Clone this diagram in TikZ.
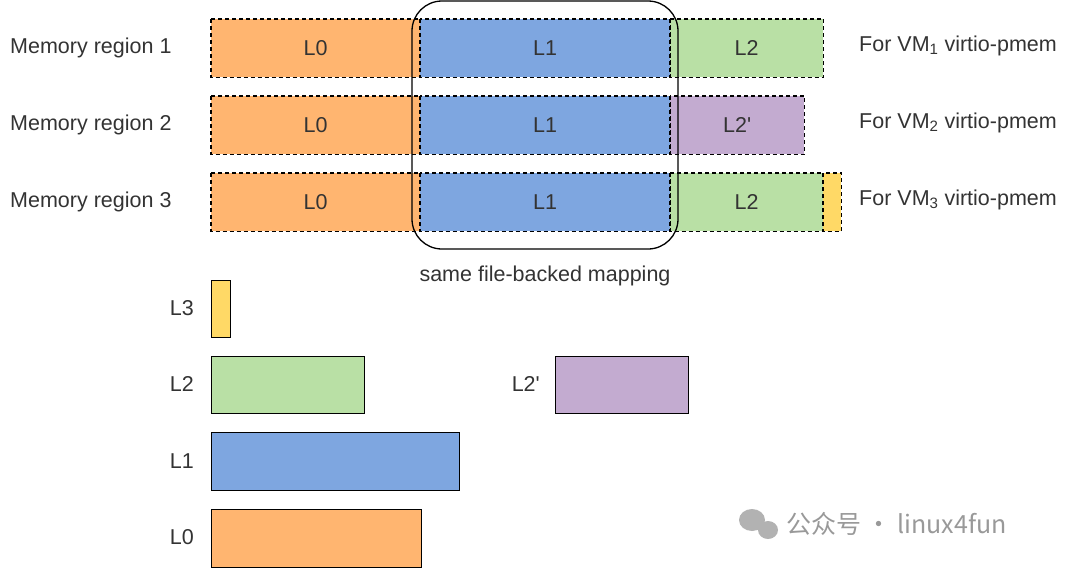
\documentclass[tikz,border=0pt]{standalone}
\usepackage{fontspec}
\setmainfont{Liberation Sans}
\newfontfamily\cjk{Noto Sans CJK SC}
\definecolor{cOr}{HTML}{FFB570}
\definecolor{cBl}{HTML}{7EA6E0}
\definecolor{cGr}{HTML}{B9E0A5}
\definecolor{cPu}{HTML}{C3ABD0}
\definecolor{cYe}{HTML}{FFD966}
\definecolor{tx}{HTML}{333333}
\begin{document}
\begin{tikzpicture}[x=1pt,y=-1pt,
  seg/.style={minimum height=58pt,anchor=north west},
  dsh/.style={draw=black,line width=1.5pt,dash pattern=on 4pt off 3pt},
  blk/.style={draw=black,line width=1pt},
  lab/.style={font=\fontsize{21.5}{24}\selectfont,text=tx},
  every node/.style={inner sep=0pt}]
\useasboundingbox (0,0) rectangle (1080,568);
% rows
\foreach \r/\yt in {1/19,2/96,3/173}{
  \node[seg,fill=cOr,minimum width=209pt,lab] (a\r) at (211,\yt) {L0};
  \node[seg,fill=cBl,minimum width=250pt,lab] (b\r) at (420,\yt) {L1};
  \node[lab,anchor=west] (m\r) at (10,\yt+29) {Memory region \r};
}
\node[seg,fill=cGr,minimum width=153pt,lab] (c1) at (670,19) {L2};
\node[seg,fill=cPu,minimum width=134pt,lab] (c2) at (670,96) {L2\textquotesingle};
\node[seg,fill=cGr,minimum width=153pt,lab] (c3) at (670,173) {L2};
\node[seg,fill=cYe,minimum width=18pt] (d3) at (823,173) {};
\foreach \n in {a1,b1,c1,a2,b2,c2,a3,b3,c3,d3}{
  \draw[dsh] (\n.north west) rectangle (\n.south east);
}
\node[lab,anchor=west] (v1) at (859,46) {For VM\textsubscript{1} virtio-pmem};
\node[lab,anchor=west] (v2) at (859,123) {For VM\textsubscript{2} virtio-pmem};
\node[lab,anchor=west] (v3) at (859,200) {For VM\textsubscript{3} virtio-pmem};
\draw[line width=1.3pt,rounded corners=30pt] (412,1) rectangle (678,249);
\node[lab] (same) at (545,276) {same file-backed mapping};
% legend blocks
\node[blk,fill=cYe,minimum width=19pt,minimum height=57pt,anchor=north west] (k3) at (211,280) {};
\node[blk,fill=cGr,minimum width=153pt,minimum height=57pt,anchor=north west] (k2) at (211,356) {};
\node[blk,fill=cPu,minimum width=133pt,minimum height=57pt,anchor=north west] (k2p) at (555,356) {};
\node[blk,fill=cBl,minimum width=248pt,minimum height=58pt,anchor=north west] (k1) at (211,432) {};
\node[blk,fill=cOr,minimum width=210pt,minimum height=58pt,anchor=north west] (k0) at (211,509) {};
\node[lab,anchor=east] at (194,308) {L3};
\node[lab,anchor=east] at (194,384) {L2};
\node[lab,anchor=east] at (540,384) {L2\textquotesingle};
\node[lab,anchor=east] at (194,461) {L1};
\node[lab,anchor=east] at (194,537) {L0};
% watermark
\fill[gray!60] (752,520) ellipse (13pt and 11pt);
\fill[gray!60] (768,530) ellipse (10pt and 9pt);
\node[anchor=west,text=gray!80,font=\cjk\fontsize{25}{28}\selectfont] (wm) at (786,524) {公众号 · linux4fun};
\end{tikzpicture}
\end{document}
